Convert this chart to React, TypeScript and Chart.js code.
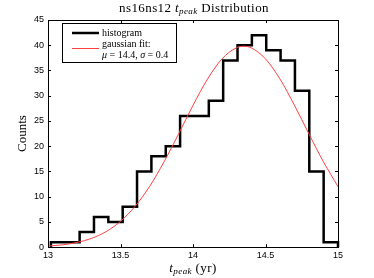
import React, { useEffect, useRef } from "react";
import { Chart, registerables } from "chart.js";
Chart.register(...registerables);

// Histogram bin edges (left edges) and counts
const binEdges = [13.02, 13.119, 13.218, 13.317, 13.416, 13.515, 13.614, 13.713, 13.812, 13.911,
  14.01, 14.109, 14.208, 14.307, 14.406, 14.505, 14.604, 14.703, 14.802, 14.901];
const binRightEnd = 15.0;
const counts = [1, 1, 3, 6, 5, 8, 15, 18, 20, 26, 26, 29, 37, 40, 42, 39, 37, 31, 15, 1];

// Gaussian fit curve
const fitX = [13.0, 13.1, 13.2, 13.3, 13.4, 13.5, 13.6, 13.7, 13.8, 13.9, 14.0,
  14.1, 14.2, 14.3, 14.35, 14.4, 14.5, 14.6, 14.7, 14.8, 14.9, 15.0];
const fitY = [0.23, 0.47, 0.94, 1.75, 3.08, 5.13, 8.08, 12.0, 16.9, 22.4, 28.1,
  33.3, 37.3, 39.5, 39.8, 39.5, 37.3, 33.3, 28.1, 22.4, 16.9, 12.0];

const xTicks = [13, 13.5, 14, 14.5, 15];
const yTicks = [0, 5, 10, 15, 20, 25, 30, 35, 40, 45];

const SERIF = "'Liberation Serif', 'DejaVu Serif', serif";
const SANS = "'Liberation Sans', Arial, sans-serif";

const decorPlugin = {
  id: "decor",
  afterDraw(chart: any) {
    const ctx = chart.ctx as CanvasRenderingContext2D;
    const a = chart.chartArea;
    const xs = chart.scales.x;
    const ys = chart.scales.y;
    ctx.save();
    // frame
    ctx.strokeStyle = "#000";
    ctx.lineWidth = 1;
    ctx.strokeRect(Math.round(a.left) + 0.5, Math.round(a.top) + 0.5,
      Math.round(a.right - a.left), Math.round(a.bottom - a.top));
    // inward ticks
    const tl = 3;
    ctx.beginPath();
    for (const v of xTicks) {
      const px = Math.round(xs.getPixelForValue(v)) + 0.5;
      ctx.moveTo(px, a.bottom); ctx.lineTo(px, a.bottom - tl);
      ctx.moveTo(px, a.top); ctx.lineTo(px, a.top + tl);
    }
    for (const v of yTicks) {
      const py = Math.round(ys.getPixelForValue(v)) + 0.5;
      ctx.moveTo(a.left, py); ctx.lineTo(a.left + tl, py);
      ctx.moveTo(a.right, py); ctx.lineTo(a.right - tl, py);
    }
    ctx.stroke();

    ctx.fillStyle = "#000";
    const cx = (a.left + a.right) / 2;
    const drawMath = (parts: { t: string; f: string; dy?: number }[], centerX: number, baseY: number, ls: string) => {
      (ctx as any).letterSpacing = ls;
      let w = 0;
      for (const p of parts) { ctx.font = p.f; w += ctx.measureText(p.t).width; }
      let x = centerX - w / 2;
      ctx.textBaseline = "alphabetic";
      ctx.textAlign = "left";
      for (const p of parts) {
        ctx.font = p.f;
        ctx.fillText(p.t, x, baseY + (p.dy || 0));
        x += ctx.measureText(p.t).width;
      }
      (ctx as any).letterSpacing = "0px";
    };
    drawMath([
      { t: "ns16ns12 ", f: `13px ${SERIF}` },
      { t: "t", f: `italic 13px ${SERIF}` },
      { t: "peak", f: `italic 9px ${SERIF}`, dy: 2 },
      { t: " Distribution", f: `13px ${SERIF}` },
    ], cx + 1, 12, "0.4px");
    // x label
    drawMath([
      { t: "t", f: `italic 13px ${SERIF}` },
      { t: "peak", f: `italic 9px ${SERIF}`, dy: 2 },
      { t: " (yr)", f: `13px ${SERIF}` },
    ], cx, 272, "0.4px");
    // y label
    ctx.save();
    ctx.translate(23, (a.top + a.bottom) / 2);
    ctx.rotate(-Math.PI / 2);
    ctx.font = `13px ${SERIF}`;
    ctx.textAlign = "center";
    ctx.textBaseline = "middle";
    ctx.fillText("Counts", 0, 0);
    ctx.restore();

    // legend
    const lx = 62, ly = 23, lw = 114, lh = 39;
    ctx.fillStyle = "#fff";
    ctx.fillRect(lx, ly, lw, lh);
    ctx.strokeStyle = "#000";
    ctx.lineWidth = 1;
    ctx.strokeRect(lx + 0.5, ly + 0.5, lw, lh);
    ctx.beginPath();
    ctx.lineWidth = 2.5;
    ctx.moveTo(72, 33); ctx.lineTo(99, 33);
    ctx.stroke();
    ctx.beginPath();
    ctx.strokeStyle = "#ff4040";
    ctx.lineWidth = 1;
    ctx.moveTo(72, 48.5); ctx.lineTo(99, 48.5);
    ctx.stroke();
    ctx.fillStyle = "#000";
    ctx.textAlign = "left";
    ctx.textBaseline = "alphabetic";
    ctx.font = `10px ${SERIF}`;
    ctx.fillText("histogram", 102, 36);
    ctx.fillText("gaussian fit:", 102, 47);
    let x = 102;
    const seg = (t: string, it: boolean) => {
      ctx.font = `${it ? "italic " : ""}10px ${SERIF}`;
      ctx.fillText(t, x, 58);
      x += ctx.measureText(t).width;
    };
    seg("μ", true); seg(" = 14.4, ", false); seg("σ", true); seg(" = 0.4", false);
    ctx.restore();
  },
};

export default function App() {
  const ref = useRef<HTMLCanvasElement>(null);
  useEffect(() => {
    if (!ref.current) return;
    const histPts: { x: number; y: number }[] = [{ x: binEdges[0], y: 0 }];
    binEdges.forEach((e, i) => histPts.push({ x: e, y: counts[i] }));
    histPts.push({ x: binRightEnd, y: counts[counts.length - 1] });
    histPts.push({ x: binRightEnd, y: 0 });
    const fitPts = fitX.map((x, i) => ({ x, y: fitY[i] }));
    const chart = new Chart(ref.current, {
      type: "line",
      data: {
        datasets: [
          {
            label: "gaussian fit",
            data: fitPts,
            borderColor: "#ff4040",
            borderWidth: 1,
            pointRadius: 0,
            cubicInterpolationMode: "monotone",
            fill: false,
          },
          {
            label: "histogram",
            data: histPts,
            borderColor: "#000",
            borderWidth: 2.5,
            pointRadius: 0,
            stepped: "before",
            fill: false,
            clip: false as any,
          },
        ],
      },
      options: {
        animation: false,
        responsive: false,
        events: [],
        layout: { padding: { left: 30, right: 36, top: 20, bottom: 14 } },
        plugins: { legend: { display: false }, title: { display: false }, tooltip: { enabled: false } },
        scales: {
          x: {
            type: "linear",
            min: 13,
            max: 15,
            afterBuildTicks: (s: any) => { s.ticks = xTicks.map((v) => ({ value: v })); },
            ticks: { font: { family: SANS, size: 9 }, color: "#000", padding: 3, maxRotation: 0, callback: (v: any) => String(v) },
            grid: { display: false, drawTicks: false },
            border: { display: false },
          },
          y: {
            type: "linear",
            min: 0,
            max: 45,
            afterBuildTicks: (s: any) => { s.ticks = yTicks.map((v) => ({ value: v })); },
            ticks: { font: { family: SANS, size: 9 }, color: "#000", padding: 4, callback: (v: any) => String(v) },
            grid: { display: false, drawTicks: false },
            border: { display: false },
          },
        },
      },
      plugins: [decorPlugin],
    });
    return () => chart.destroy();
  }, []);
  return (
    <div style={{ position: "absolute", left: 0, top: 0, width: 374, height: 278, background: "#fff" }}>
      <canvas ref={ref} width={374} height={278} style={{ width: 374, height: 278, display: "block" }} />
    </div>
  );
}
